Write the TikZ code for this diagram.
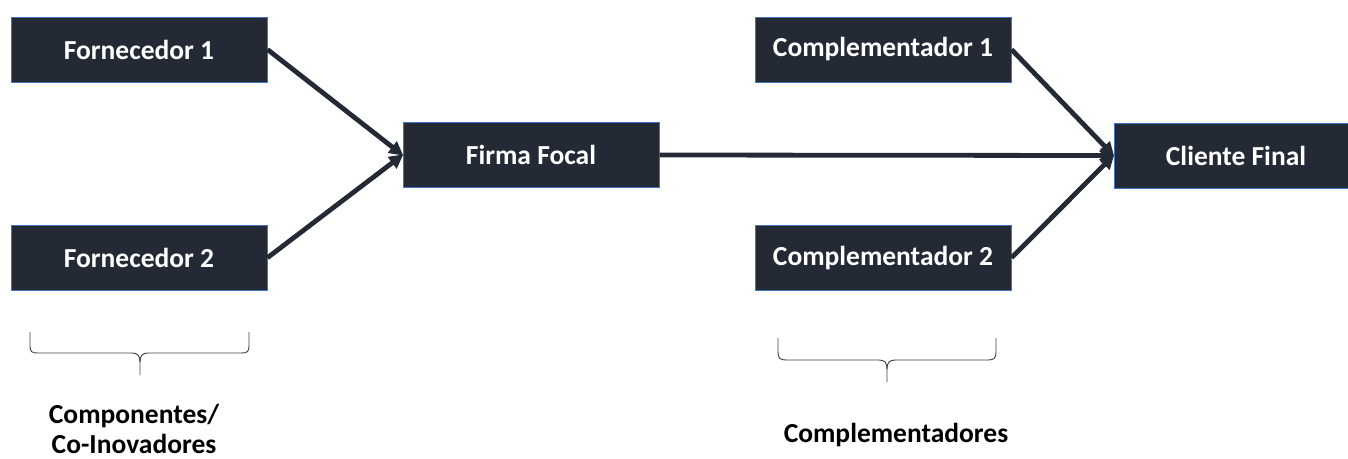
\documentclass[tikz,border=0pt]{standalone}
\usepackage{fontspec}
\setmainfont{Carlito}
\usetikzlibrary{arrows.meta}
\definecolor{boxfill}{HTML}{232A36}
\definecolor{boxline}{HTML}{4472C4}
\begin{document}
\begin{tikzpicture}[x=1pt,y=-1pt,
  entity/.style={draw=boxline,line width=1pt,fill=boxfill,text=white,
    minimum width=256pt,minimum height=65pt,inner sep=0pt,
    font=\fontsize{27.5}{30}\selectfont\bfseries},
  flow/.style={draw=boxfill,line width=4.8pt,-{Triangle[length=14pt,width=14pt]},shorten >=-1pt},
  bracepath/.style={draw=black!75,line width=0.9pt},
  caption/.style={font=\fontsize{27.5}{30}\selectfont\bfseries,align=center,inner sep=0pt}]
\useasboundingbox (0,0) rectangle (1348,458);
\node[entity] (f1) at (139,49.5) {Fornecedor 1};
\node[entity] (f2) at (139,257.7) {Fornecedor 2};
\node[entity] (ff) at (531,155) {Firma Focal};
\node[entity] (c1) at (883,49.5) {Complementador 1};
\node[entity] (c2) at (883,257.7) {Complementador 2};
\node[entity,minimum width=244pt] (cf) at (1236,155.5) {Cliente Final};
\draw[flow] (f1.east) -- (ff.west);
\draw[flow] (f2.east) -- (ff.west);
\draw[flow] (ff.east) -- (cf.west);
\draw[flow] (c1.east) -- (cf.west);
\draw[flow] (c2.east) -- (cf.west);
% braces
\coordinate (b1) at (140,375);
\draw[bracepath] (30,332) -- (30,346) .. controls (30,352) and (32,353) .. (38,353)
  -- (132,353) .. controls (138,353) and (140,356) .. (140,362) -- (b1);
\draw[bracepath] (249,332) -- (249,346) .. controls (249,352) and (247,353) .. (241,353)
  -- (148,353) .. controls (142,353) and (140,356) .. (140,362);
\coordinate (b2) at (887,382);
\draw[bracepath] (778,338) -- (778,352) .. controls (778,358) and (780,360) .. (786,360)
  -- (879,360) .. controls (885,360) and (887,363) .. (887,369) -- (b2);
\draw[bracepath] (996,338) -- (996,352) .. controls (996,358) and (994,360) .. (988,360)
  -- (895,360) .. controls (889,360) and (887,363) .. (887,369);
\node[caption,anchor=north] (l1) at (134,404) {Componentes/\\Co-Inovadores};
\node[caption] (l2) at (896,435) {Complementadores};
\end{tikzpicture}
\end{document}
